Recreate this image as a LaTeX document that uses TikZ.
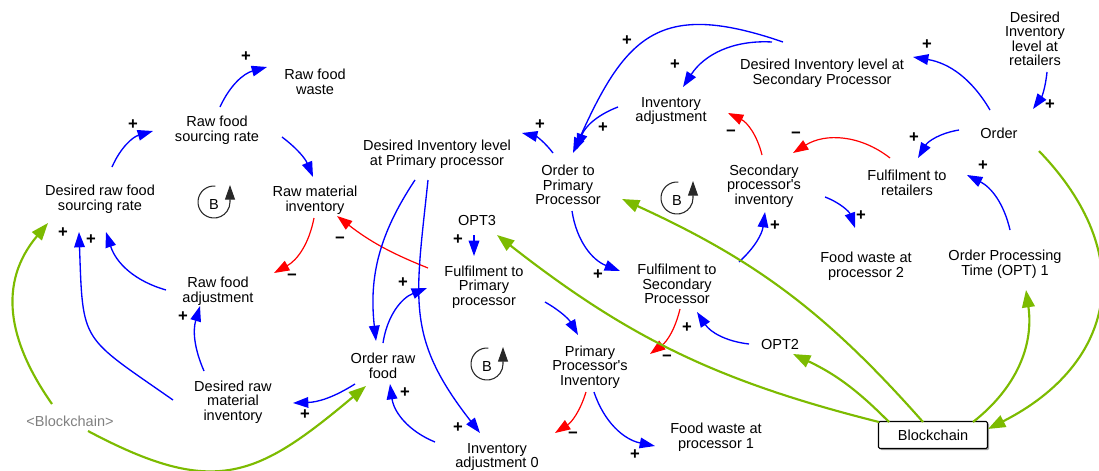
\documentclass[tikz,border=0pt]{standalone}
\usepackage{fontspec}
\setmainfont{Liberation Sans}
\usetikzlibrary{arrows.meta,calc,shadows}
\definecolor{linkblue}{RGB}{0,0,255}
\definecolor{linkred}{RGB}{255,0,0}
\definecolor{linkgreen}{RGB}{124,187,0}
\definecolor{ghosttext}{RGB}{128,128,128}
\definecolor{loopgray}{RGB}{40,40,40}
\begin{document}
\begin{tikzpicture}[x=0.75pt,y=0.75pt,
  var/.style={align=center,font=\fontsize{10.9}{10.9}\selectfont,inner sep=0pt},
  sgn/.style={font=\fontsize{12.5}{12.5}\selectfont\bfseries,inner sep=0pt},
  bl/.style={draw=linkblue,line width=1pt,-{Triangle[length=11.5pt,width=8pt]}},
  rd/.style={draw=linkred,line width=0.9pt,-{Triangle[length=11.5pt,width=8pt]}},
  gr/.style={draw=linkgreen,line width=1.6pt,-{Triangle[length=13pt,width=9.5pt]}},
  loopB/.pic={
    \draw[loopgray,line width=0.8pt,-{Triangle[length=11pt,width=7.5pt]}]
      (85:16) arc[start angle=85,end angle=360,radius=16] -- ++(0,17);
    \node[var] (-b) at (0,-2) {B};
  }]
\useasboundingbox (0,0) rectangle (1099,-471);

% variables
\node[var] (rfw)   at (315,-82)  {Raw food\\waste};
\node[var] (rfsr)  at (217,-130) {Raw food\\sourcing rate};
\node[var] (drfsr) at (100,-199) {Desired raw food\\sourcing rate};
\node[var] (rmi)   at (315,-200) {Raw material\\inventory};
\node[var] (rfa)   at (218,-291) {Raw food\\adjustment};
\node[var] (drmi)  at (233,-402) {Desired raw\\material\\inventory};
\node[var,text=ghosttext] (bcg) at (70,-421) {<Blockchain>};
\node[var] (orf)   at (383,-366) {Order raw\\food};
\node[var] (dilpp) at (437,-154) {Desired Inventory level\\at Primary processor};
\node[var] (opt3)  at (477,-220) {OPT3};
\node[var] (fpp)   at (484,-287) {Fulfilment to\\Primary\\processor};
\node[var] (otpp)  at (568,-185) {Order to\\Primary\\Processor};
\node[var] (ppi)   at (590,-367) {Primary\\Processor\textquotesingle s\\Inventory};
\node[var] (ia0)   at (497,-457) {Inventory\\adjustment 0};
\node[var] (fwp1)  at (716,-437) {Food waste at\\processor 1};
\node[var] (fsp)   at (677,-284) {Fulfilment to\\Secondary\\Processor};
\node[var] (opt2)  at (780,-344) {OPT2};
\node[var,draw=black,line width=0.8pt,fill=white,rounded corners=1pt,
      minimum width=81.75pt,minimum height=20.25pt,
      drop shadow={shadow xshift=1.2pt,shadow yshift=-1.2pt,opacity=0.7}]
      (bc) at (933,-435) {Blockchain};
\node[var] (fwp2)  at (866,-266) {Food waste at\\processor 2};
\node[var] (opt1)  at (1005,-264) {Order Processing\\Time (OPT) 1};
\node[var] (ia)    at (671,-111) {Inventory\\adjustment};
\node[var] (dilsp) at (822,-73)  {Desired Inventory level at\\Secondary Processor};
\node[var] (spi)   at (764,-186) {Secondary\\processor\textquotesingle s\\inventory};
\node[var] (fr)    at (907,-183) {Fulfilment to\\retailers};
\node[var] (ord)   at (999,-133) {Order};
\node[var] (dilr)  at (1035,-39) {Desired\\Inventory\\level at\\retailers};

% balancing loop markers
\pic (loop1) at (214,-202) {loopB};
\pic (loop2) at (487,-364) {loopB};
\pic (loop3) at (677,-198) {loopB};

% raw food side
\draw[bl] ($(drfsr)+(12,32)$) to[bend left=25] ($(rfsr)+(-64,-1)$);
\draw[bl] ($(rfsr)+(3,23)$) to[bend left=25] ($(rfw)+(-48,15)$);
\draw[bl] ($(rfsr)+(65,-7)$) to[bend left=15] ($(rmi)+(-2,23)$);
\draw[rd] ($(rmi)+(-1,-18)$) to[bend left=25] ($(rfa)+(56,18)$);
\draw[rd] ($(fpp)+(-56,19)$) to[bend left=8] ($(rmi)+(22,-16)$);
\draw[bl] ($(rfa)+(-52,1)$) to[bend left=28] ($(drfsr)+(6,-33)$);
\draw[bl] ($(drmi)+(-29,31)$) to[bend left=20] ($(rfa)+(-18,-15)$);
\draw[bl] ($(drmi)+(-60,2)$) to[out=145,in=272,looseness=1.5] ($(drfsr)+(-21,-33)$);
\draw[gr] ($(bcg)+(-18,17)$) to[out=125,in=230,looseness=1.1] ($(drfsr)+(-52,-24)$);
\draw[gr] ($(bcg)+(18,-10)$) to[out=-28,in=220,looseness=1.3] ($(orf)+(-17,-20)$);
\draw[bl] ($(orf)+(-28,-18)$) to[bend left=15] ($(drmi)+(60,-1)$);

% primary processor
\draw[bl] ($(dilpp)+(-22,-26)$) to[bend right=20] ($(orf)+(-7,25)$);
\draw[bl] ($(orf)+(0,23)$) to[bend left=30] ($(fpp)+(-57,-1)$);
\draw[bl] ($(dilpp)+(-9,-26)$) to[out=-96,in=128,looseness=1.2] ($(ia0)+(-17,24)$);
\draw[bl] ($(ia0)+(-62,15)$) to[bend left=30] ($(orf)+(7,-18)$);
\draw[bl] ($(opt3)+(-3,-15)$) -- ($(fpp)+(-10,31)$);
\draw[bl] ($(otpp)+(-15,32)$) to[bend right=20] ($(dilpp)+(85,21)$);
\draw[bl] ($(otpp)+(4,-26)$) to[bend right=30] ($(fsp)+(-57,13)$);
\draw[bl] ($(fpp)+(61,-15)$) to[bend left=15] ($(ppi)+(-12,32)$);
\draw[rd] ($(ppi)+(-4,-25)$) to[bend left=20] ($(ia0)+(58,24)$);
\draw[bl] ($(ppi)+(4,-25)$) to[bend right=30] ($(fwp1)+(-61,-9)$);

% secondary processor
\draw[rd] ($(fsp)+(3,-25)$) to[bend left=20] ($(ppi)+(60,13)$);
\draw[bl] ($(opt2)+(-31,0)$) to[bend left=25] ($(fsp)+(20,-28)$);
\draw[bl] ($(fsp)+(62,22)$) to[bend right=20] ($(spi)+(1,-26)$);
\draw[rd] ($(spi)+(-2,31)$) to[bend right=25] ($(ia)+(57,-2)$);
\draw[rd] ($(fr)+(-17,25)$) to[bend right=35] ($(spi)+(29,33)$);
\draw[bl] ($(spi)+(61,-11)$) to[bend left=25] ($(fwp2)+(-11,38)$);
\draw[bl] ($(dilsp)+(-50,31)$) to[bend right=30] ($(ia)+(12,24)$);
\draw[bl] ($(dilsp)+(-39,31)$) to[out=161,in=66,looseness=1.4] ($(otpp)+(5,32)$);
\draw[bl] ($(ia)+(-53,4)$) to[bend right=25] ($(otpp)+(9,36)$);

% retailers
\draw[bl] ($(ord)+(-9,23)$) to[bend right=25] ($(dilsp)+(91,16)$);
\draw[bl] ($(dilr)+(12,-33)$) to[bend left=15] ($(ord)+(34,24)$);
\draw[bl] ($(ord)+(-40,3)$) to[bend right=25] ($(fr)+(11,25)$);
\draw[bl] ($(opt1)+(5,34)$) to[bend right=25] ($(fr)+(60,8)$);

% blockchain links
\draw[gr] ($(ord)+(40,-18)$) to[out=-46,in=27,looseness=1.3] ($(bc)+(55,6)$);
\draw[gr] ($(bc)+(40,13)$) to[bend right=30] ($(opt1)+(21,-26)$);
\draw[gr] ($(bc)+(-44,13)$) to[bend right=10] ($(opt2)+(13,-10)$);
\draw[gr] ($(bc)+(-10,13)$) to[bend right=12] ($(otpp)+(54,-14)$);
\draw[gr] ($(bc)+(-54,13)$) to[bend left=12] ($(opt3)+(20,-15)$);

% link polarities
\foreach \i/\x/\y/\s in {
  1/133/125/+, 2/246/57/+, 3/292/277/−, 4/340/240/−, 5/183/317/+,
  6/63/233/+, 7/91/240/+, 8/305/415/+, 9/403/283/+, 10/458/428/+,
  11/405/393/+, 12/458/240/+, 13/540/125/+, 14/603/128/+, 15/598/275/+,
  16/573/435/−, 17/635/455/+, 18/667/358/−, 19/687/328/+, 20/775/226/+,
  21/731/133/−, 22/796/135/−, 23/861/216/+, 24/627/41/+, 25/675/65/+,
  26/927/45/+, 27/1050/105/+, 28/914/138/+, 29/983/166/+}
  \node[sgn] (p\i) at (\x,-\y) {\s};
\end{tikzpicture}
\end{document}
